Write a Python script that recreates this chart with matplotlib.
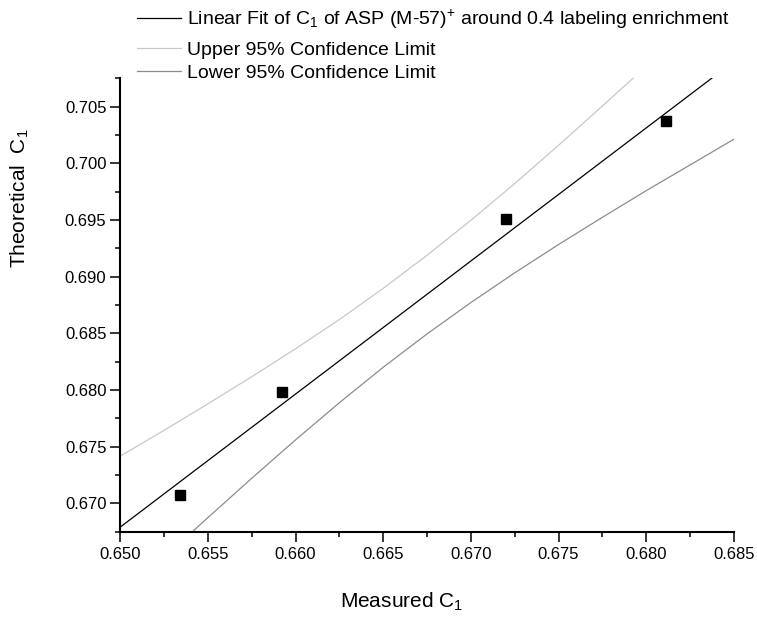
import matplotlib
matplotlib.use("Agg")
import matplotlib.pyplot as plt
from matplotlib.lines import Line2D
from matplotlib.ticker import MultipleLocator, FormatStrFormatter

# measured points
measured = [0.6534, 0.6592, 0.6720, 0.6811]
theoretical = [0.6707, 0.6798, 0.6951, 0.7037]

# linear fit end points
fit_x = [0.650, 0.685]
fit_y = [0.6679, 0.7090]

# 95% confidence limits
band_x = [0.6500, 0.6525, 0.6550, 0.6575, 0.6600, 0.6625, 0.6650, 0.6675,
          0.6700, 0.6725, 0.6750, 0.6775, 0.6800, 0.6825, 0.6850]
upper_y = [0.67416, 0.67644, 0.67878, 0.68117, 0.68364, 0.68622, 0.68897, 0.69189,
           0.69498, 0.69822, 0.70160, 0.70506, 0.70857, 0.71216, 0.71577]
lower_y = [0.66162, 0.66520, 0.66874, 0.67221, 0.67560, 0.67888, 0.68201, 0.68495,
           0.68772, 0.69034, 0.69284, 0.69524, 0.69759, 0.69986, 0.70213]

legend_labels = [r"Linear Fit of C$_1$ of ASP (M-57)$^{+}$ around 0.4 labeling enrichment",
                 "Upper 95% Confidence Limit",
                 "Lower 95% Confidence Limit"]

plt.rcParams["font.family"] = ["Liberation Sans", "DejaVu Sans"]
plt.rcParams["mathtext.fontset"] = "custom"
plt.rcParams["mathtext.rm"] = "Liberation Sans"
plt.rcParams["mathtext.it"] = "Liberation Sans:italic"
plt.rcParams["mathtext.bf"] = "Liberation Sans:bold"

W, H = 757, 623
fig = plt.figure(figsize=(W / 100, H / 100), dpi=100)
ax = fig.add_axes([0.1589, 0.1467, 0.8106, 0.7275])

fit_color = "black"
upper_color = "#c8c8c8"
lower_color = "#8c8c8c"

ax.plot(fit_x, fit_y, color=fit_color, lw=0.9)
ax.plot(band_x, upper_y, color=upper_color, lw=0.9)
ax.plot(band_x, lower_y, color=lower_color, lw=0.9)
ax.plot(measured, theoretical, ls="none", marker="s", ms=6.5, color="black")

ax.set_xlim(0.650, 0.685)
ax.set_ylim(0.6675, 0.7075)

ax.xaxis.set_major_locator(MultipleLocator(0.005))
ax.xaxis.set_minor_locator(MultipleLocator(0.0025))
ax.yaxis.set_major_locator(MultipleLocator(0.005))
ax.yaxis.set_minor_locator(MultipleLocator(0.0025))
ax.xaxis.set_major_formatter(FormatStrFormatter("%.3f"))
ax.yaxis.set_major_formatter(FormatStrFormatter("%.3f"))

for side in ["top", "right"]:
    ax.spines[side].set_visible(False)
for side in ["left", "bottom"]:
    ax.spines[side].set_linewidth(1.5)

ax.tick_params(which="major", direction="out", length=7, width=1.1,
               labelsize=12, pad=3)
ax.tick_params(which="minor", direction="out", length=3.6, width=1.1)
ax.tick_params(axis="x", which="major", pad=4)

# axis titles
fig.text(402 / W, 1 - 608 / H, r"Measured C$_1$", fontsize=15,
         ha="center", va="baseline")
fig.text(20 / W, 1 - 198 / H, r"Theoretical  C$_1$", fontsize=15,
         ha="center", va="center", rotation=90)

# legend at the top
rows = [(17.5, 25), (48, 55), (71, 78)]
colors = [fit_color, upper_color, lower_color]
for (ly, ty), label, c in zip(rows, legend_labels, colors):
    fig.add_artist(Line2D([137 / W, 181 / W], [1 - ly / H, 1 - ly / H],
                          color=c, lw=0.9, transform=fig.transFigure))
    fig.text(187 / W, 1 - ty / H, label, fontsize=14, ha="left", va="baseline")

fig.savefig("out.png", dpi=100)
